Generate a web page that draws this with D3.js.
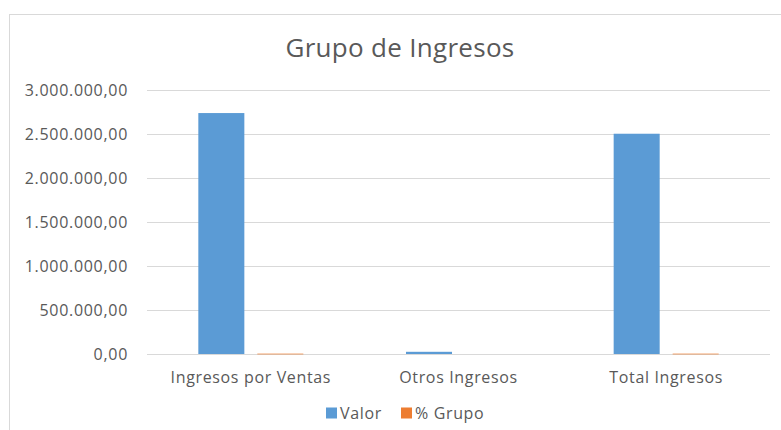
<!DOCTYPE html>
<html><head><meta charset="utf-8">
<script src="https://cdn.jsdelivr.net/npm/d3@7"></script>
<style>
html,body{margin:0;padding:0;background:#fff;}
svg{display:block;font-family:"Open Sans",sans-serif;}
</style></head>
<body>
<svg id="c" width="781" height="430"></svg>
<script>
const title = "Grupo de Ingresos";
const categories = ["Ingresos por Ventas", "Otros Ingresos", "Total Ingresos"];
const seriesNames = ["Valor", "% Grupo"];
const valor = [2738000, 25000, 2503000];
const pctGrupo = [109.39, 1.0, 100];
const yTicks = [0, 500000, 1000000, 1500000, 2000000, 2500000, 3000000];
const colors = ["#5B9BD5", "#ED7D31"];

const svg = d3.select("#c");
const W = 781, H = 430;
const margin = {left: 147, right: 11, top: 90, bottom: 76};

// chart border
svg.append("rect").attr("x", 9.5).attr("y", 14.5).attr("width", 800).attr("height", 500)
  .attr("fill", "#fff").attr("stroke", "#d9d9d9").attr("stroke-width", 1);

svg.append("text").attr("x", 400).attr("y", 57).attr("text-anchor", "middle")
  .attr("font-size", 26).attr("letter-spacing", "0.3px").attr("fill", "#595959").text(title);

const x0 = d3.scaleBand().domain(categories).range([margin.left, W - margin.right]).paddingInner(0).paddingOuter(0);
const x1 = d3.scaleBand().domain(seriesNames).range([0, x0.bandwidth()]).paddingInner(0.22).paddingOuter(0.87);
const y = d3.scaleLinear().domain([0, 3000000]).range([H - margin.bottom, margin.top]);

const fmt = v => {
  const s = d3.format(",.2f")(v);
  return s.replace(/,/g, "#").replace(".", ",").replace(/#/g, ".");
};

// gridlines
const yAxis = d3.axisLeft(y).tickValues(yTicks).tickSize(-(W - margin.left - margin.right)).tickFormat(fmt).tickPadding(19);
const gy = svg.append("g").attr("transform", `translate(${margin.left},0)`).call(yAxis);
gy.select(".domain").remove();
gy.selectAll(".tick line").attr("stroke", "#d9d9d9").attr("stroke-width", 1);
gy.selectAll(".tick text").attr("font-size", 16).attr("fill", "#595959").attr("font-family", "'Open Sans',sans-serif").attr("letter-spacing", "0.7px");

const data = categories.map((c, i) => ({cat: c, vals: [valor[i], pctGrupo[i]]}));
const groups = svg.append("g").selectAll("g").data(data).join("g")
  .attr("transform", d => `translate(${x0(d.cat)},0)`);
groups.selectAll("rect").data(d => d.vals.map((v, j) => ({v, j}))).join("rect")
  .attr("x", d => x1(seriesNames[d.j]))
  .attr("width", x1.bandwidth())
  .attr("y", d => {
    const h = Math.max(y(0) - y(d.v), d.v >= 10 ? 2 : 0);
    return y(0) - h + (d.j === 1 ? 1 : 0);
  })
  .attr("height", d => Math.max(y(0) - y(d.v), d.v >= 10 ? 2 : 0))
  .attr("fill", d => colors[d.j])
  .attr("fill-opacity", d => d.j === 1 ? 0.35 : 1);

// category axis labels
const gx = svg.append("g").attr("transform", `translate(0,${H - margin.bottom})`)
  .call(d3.axisBottom(x0).tickSize(0).tickPadding(18));
gx.select(".domain").remove();
gx.selectAll(".tick text").attr("font-size", 16).attr("fill", "#595959").attr("font-family", "'Open Sans',sans-serif").attr("letter-spacing", "0.65px");

// legend
const legend = svg.append("g").attr("transform", "translate(326,407.5)");
const items = [{name: seriesNames[0], x: 0}, {name: seriesNames[1], x: 75}];
items.forEach((it, i) => {
  legend.append("rect").attr("x", it.x).attr("y", 0).attr("width", 11).attr("height", 11).attr("fill", colors[i]);
  legend.append("text").attr("x", it.x + 14).attr("y", 11).attr("font-size", 16)
    .attr("fill", "#595959").attr("letter-spacing", "0.65px").text(it.name);
});
</script>
</body></html>
